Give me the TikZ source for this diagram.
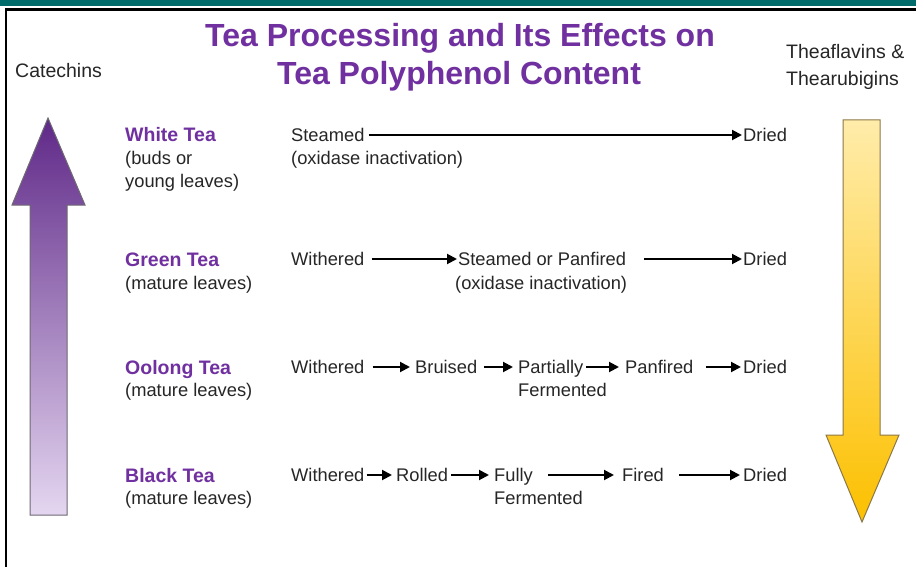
\documentclass[tikz,border=0pt]{standalone}
\usepackage{fontspec}
\setmainfont{Liberation Sans}
\usetikzlibrary{arrows.meta}
\definecolor{teapurple}{HTML}{7030A0}
\definecolor{txtgray}{HTML}{262626}
\definecolor{tealbar}{HTML}{006B6B}
\begin{document}
\begin{tikzpicture}[x=1pt,y=-1pt,
  txt/.style={inner sep=0pt,anchor=west,text height=13pt,text depth=0pt,
    font=\fontsize{18.3}{20}\selectfont,text=txtgray},
  lbl/.style={inner sep=0pt,anchor=west,text height=14pt,text depth=0pt,
    font=\fontsize{19.5}{22}\selectfont\bfseries,text=teapurple},
  hdr/.style={inner sep=0pt,anchor=west,text height=14pt,text depth=0pt,
    font=\fontsize{19.5}{22}\selectfont,text=txtgray},
  ttl/.style={inner sep=0pt,text height=23pt,text depth=0pt,
    font=\fontsize{32}{36}\selectfont\bfseries,text=teapurple},
  flow/.style={line width=2pt,draw=black,-{Triangle[length=10pt,width=10pt]}}]
\useasboundingbox (0,0) rectangle (916,567);
\fill[white] (0,0) rectangle (916,567);
% frame
\fill[tealbar] (0,0) rectangle (916,6.5);
\draw[line width=2.6pt,black] (6,567) -- (6,9.3) -- (916,9.3);
% title
\node[ttl] (t1) at (460,35) {Tea Processing and Its Effects on};
\node[ttl] (t2) at (459,73) {Tea Polyphenol Content};
% side headers
\node[hdr] (cat) at (15,71) {Catechins};
\node[hdr] (th1) at (786,52) {Theaflavins \&};
\node[hdr] (th2) at (786,79) {Thearubigins};
% big arrows
\shade[top color=teapurple!85!black,bottom color={rgb,255:red,228;green,214;blue,240}]
  (48,118) -- (85,205) -- (67,205) -- (67,515) -- (30,515) -- (30,205) -- (12,205) -- cycle;
\draw[line width=1pt,draw={rgb,255:red,110;green,105;blue,115}]
  (48,118) -- (85,205) -- (67,205) -- (67,515) -- (30,515) -- (30,205) -- (12,205) -- cycle;
\shade[top color={rgb,255:red,255;green,236;blue,170},bottom color={rgb,255:red,252;green,192;blue,0}]
  (843,120) -- (880,120) -- (880,435) -- (899,435) -- (862,522) -- (826,435) -- (843,435) -- cycle;
\draw[line width=1pt,draw={rgb,255:red,140;green,120;blue,70}]
  (843,120) -- (880,120) -- (880,435) -- (899,435) -- (862,522) -- (826,435) -- (843,435) -- cycle;
% row 1
\node[lbl] (wt) at (125,135) {White Tea};
\node[txt] (wt1) at (125,158) {(buds or};
\node[txt] (wt2) at (125,181) {young leaves)};
\node[txt] (s1) at (291,135) {Steamed};
\node[txt] (s1b) at (291,158) {(oxidase inactivation)};
\node[txt] (d1) at (743,135) {Dried};
\draw[flow,shorten <=4pt,shorten >=1pt] (s1.east) -- (d1.west);
% row 2
\node[lbl] (gt) at (125,259) {Green Tea};
\node[txt] (gt1) at (125,283) {(mature leaves)};
\node[txt] (w2) at (291,259) {Withered};
\node[txt] (s2) at (458,259) {Steamed or Panfired};
\node[txt] (s2b) at (455,283) {(oxidase inactivation)};
\node[txt] (d2) at (743,259) {Dried};
\draw[flow,shorten <=7pt,shorten >=1pt] (w2.east) -- (s2.west);
\draw[flow,shorten <=18pt,shorten >=1pt] (s2.east) -- (d2.west);
% row 3
\node[lbl] (ot) at (125,367) {Oolong Tea};
\node[txt] (ot1) at (125,390) {(mature leaves)};
\node[txt] (w3) at (291,367) {Withered};
\node[txt] (b3) at (415,367) {Bruised};
\node[txt] (p3) at (518,367) {Partially};
\node[txt] (p3b) at (518,390) {Fermented};
\node[txt] (f3) at (625,367) {Panfired};
\node[txt] (d3) at (743,367) {Dried};
\draw[flow,shorten <=8pt,shorten >=5pt] (w3.east) -- (b3.west);
\draw[flow,shorten <=7pt,shorten >=5pt] (b3.east) -- (p3.west);
\draw[flow,shorten <=3pt,shorten >=6pt] (p3.east) -- (f3.west);
\draw[flow,shorten <=12pt,shorten >=2pt] (f3.east) -- (d3.west);
% row 4
\node[lbl] (bt) at (125,475) {Black Tea};
\node[txt] (bt1) at (125,498) {(mature leaves)};
\node[txt] (w4) at (291,475) {Withered};
\node[txt] (r4) at (396,475) {Rolled};
\node[txt] (u4) at (494,475) {Fully};
\node[txt] (u4b) at (494,498) {Fermented};
\node[txt] (f4) at (622,475) {Fired};
\node[txt] (d4) at (743,475) {Dried};
\draw[flow,shorten <=2pt,shorten >=4pt] (w4.east) -- (r4.west);
\draw[flow,shorten <=3pt,shorten >=5pt] (r4.east) -- (u4.west);
\draw[flow,shorten <=15pt,shorten >=8pt] (u4.east) -- (f4.west);
\draw[flow,shorten <=15pt,shorten >=3pt] (f4.east) -- (d4.west);
\end{tikzpicture}
\end{document}
